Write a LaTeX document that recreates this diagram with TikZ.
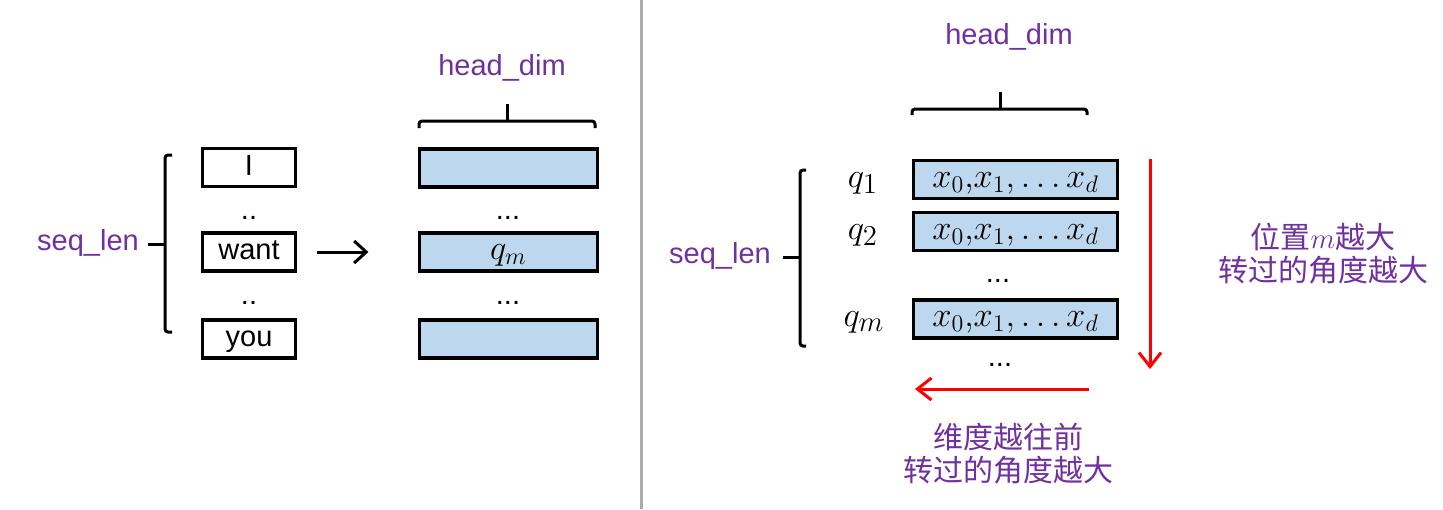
\documentclass[tikz,border=0pt]{standalone}
\usepackage{fontspec}
\setmainfont{Liberation Sans}
\newfontfamily\cjk{Noto Sans CJK SC}
\usetikzlibrary{arrows.meta}

\definecolor{lbl}{HTML}{7030A0}
\definecolor{cellblue}{HTML}{BDD7EE}
\definecolor{divgray}{HTML}{ABABAB}

\tikzset{
  word/.style={draw, line width=1.6pt, minimum width=46.5pt, minimum height=19pt, inner sep=0pt, text height=10.5pt, text depth=3pt, font=\fontsize{14.5}{16}\selectfont},
  cell/.style={word, fill=cellblue, minimum width=89pt},
  qcell/.style={word, fill=cellblue, minimum width=102pt, font=\fontsize{17.5}{19}\selectfont},
  dim/.style={text=lbl, font=\fontsize{14.5}{16}\selectfont},
  note/.style={text=lbl, align=center, font=\cjk\fontsize{15}{16.5}\selectfont},
  brk/.style={line width=1.5pt, rounded corners=1.5pt},
  dots/.style={font=\fontsize{14.5}{16}\selectfont},
  qlab/.style={font=\fontsize{19}{21}\selectfont},
}

\begin{document}
\begin{tikzpicture}[x=0.5pt,y=-0.5pt]
\useasboundingbox (0,0) rectangle (1443,509);
\draw[divgray,line width=1.5pt] (641,0) -- (641,509);

% left: tokens -> q
\node[dim] (seqL) at (88,243) {seq\_len};
\draw[brk] (172,155) -- (165,155) -- (165,332) -- (172,332);
\draw[brk] (148,244) -- (165,244);

\node[word] (wI) at (249,167.5) {I};
\node[dots] (dotA) at (249,218) {..};
\node[word] (wWant) at (249,252) {want};
\node[dots] (dotB) at (249,303) {..};
\node[word] (wYou) at (249,339) {you};

\node[dim] (headL) at (502,68) {head\_dim};
\draw[brk] (419,128) -- (419,121) -- (595,121) -- (595,128);
\draw[brk] (507,104) -- (507,121);

\node[cell] (qTop) at (508.5,168) {};
\node[dots] (dotC) at (508,218) {...};
\node[cell, font=\fontsize{18}{20}\selectfont] (qM) at (508.5,252) {$q_m$};
\node[dots] (dotD) at (508,303) {...};
\node[cell] (qBot) at (508.5,339) {};

\draw[line width=1.5pt, -{Straight Barb[length=6pt,width=11pt]}, shorten <=9.75pt, shorten >=24.75pt] (wWant) -- (qM);

% right: rotation per position and dimension
\node[dim] (seqR) at (720,256) {seq\_len};
\draw[brk] (806,170) -- (800,170) -- (800,346) -- (806,346);
\draw[brk] (783,257) -- (800,257);

\node[dim] (headR) at (1009,37) {head\_dim};
\draw[brk] (912,115) -- (912,109) -- (1087,109) -- (1087,115);
\draw[brk] (1000,92) -- (1000,109);

\node[qcell] (row1) at (1015.5,179.5) {$x_0{,}x_1{,}\ldots x_d$};
\node[qcell] (row2) at (1015.5,231.5) {$x_0{,}x_1{,}\ldots x_d$};
\node[dots] (dotE) at (998,281) {...};
\node[qcell] (rowM) at (1015.5,319) {$x_0{,}x_1{,}\ldots x_d$};
\node[dots] (dotF) at (1000,365) {...};

\node[qlab] (q1) at (863,183) {$q_1$};
\node[qlab] (q2) at (863,235) {$q_2$};
\node[qlab] (qm) at (864,322) {$q_m$};

\coordinate (vTop) at (1150,159);
\coordinate (vEnd) at (1150,369);
\draw[red, line width=1.5pt, -{Straight Barb[length=7pt,width=11pt]}] (vTop) -- (vEnd);
\coordinate (hTop) at (1089,389);
\coordinate (hEnd) at (915,389);
\draw[red, line width=1.5pt, -{Straight Barb[length=7pt,width=11pt]}] (hTop) -- (hEnd);

\node[note] (rotM) at (1323,254) {位置$m$越大\\转过的角度越大};
\node[note] (rotD) at (1008,454) {维度越往前\\转过的角度越大};
\end{tikzpicture}
\end{document}
